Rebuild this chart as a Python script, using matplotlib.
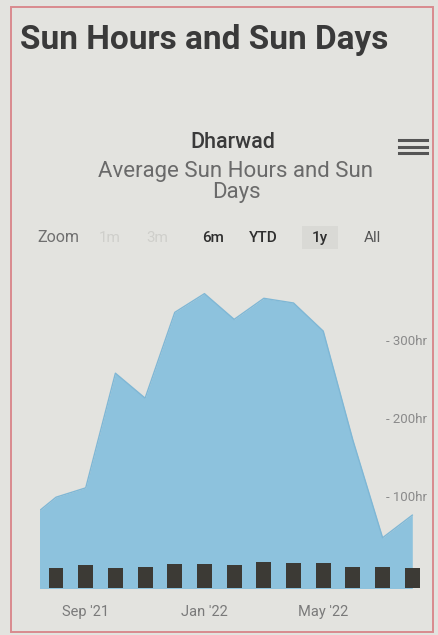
import matplotlib.pyplot as plt
from matplotlib.patches import Rectangle
import numpy as np

# monthly data, Jul '21 .. Aug '22 (first month only partly visible)
months = ["Jul '21", "Aug '21", "Sep '21", "Oct '21", "Nov '21", "Dec '21", "Jan '22",
          "Feb '22", "Mar '22", "Apr '22", "May '22", "Jun '22", "Jul '22", "Aug '22"]
sun_hours = [70, 101, 113, 260, 228, 338, 362, 329, 356, 350, 314, 174, 49, 78]
sun_days = [None, 24, 28, 24, 25, 29, 29, 27, 31, 30, 30, 25, 25, 24]

hour_ticks = [100, 200, 300]
x_tick_months = ["Sep '21", "Jan '22", "May '22"]
range_buttons = ["1m", "3m", "6m", "YTD", "1y", "All"]

W, H = 438, 635
BG = "#e3e3df"
AREA = "#8dc2dd"
BAR = "#3c3a35"

plt.rcParams["font.family"] = ["Roboto", "DejaVu Sans"]

fig = plt.figure(figsize=(W / 100, H / 100), dpi=100, facecolor=BG)


def fx(px):
    return px / W


def fy(py):
    return 1 - py / H


# card border
fig.patches.append(Rectangle((fx(11), fy(632)), fx(433) - fx(11), fy(7) - fy(632),
                             transform=fig.transFigure, fill=False,
                             edgecolor="#d98a8e", lw=1.4))

fig.text(fx(20), fy(40), "Sun Hours and Sun Days", fontsize=24, fontweight="bold",
         color="#3a3a3a", va="center", ha="left")
fig.text(fx(233), fy(143), "Dharwad", fontsize=15.5, fontweight="medium", color="#3a3a3a",
         ha="center", va="center")
fig.text(fx(236), fy(182), "Average Sun Hours and Sun\nDays", fontsize=16, color="#6a6a6a",
         ha="center", va="center", linespacing=0.95)

# hamburger menu
for yy in (140, 146.5, 153):
    fig.add_artist(plt.Line2D([fx(399), fx(427)], [fy(yy), fy(yy)], transform=fig.transFigure,
                              color="#555555", lw=2.2))

# range selector
fig.text(fx(58), fy(238), "Zoom", fontsize=11.5, color="#6f6f6f", ha="center", va="center")
btn_x = [110, 157, 213, 263, 320, 372]
btn_col = ["#cfcfcb", "#cfcfcb", "#2f2f2f", "#2f2f2f", "#2f2f2f", "#555555"]
fig.patches.append(Rectangle((fx(302), fy(249)), fx(338) - fx(302), fy(226) - fy(249),
                             transform=fig.transFigure, facecolor="#d9d9d5", edgecolor="none"))
for lbl, x, c in zip(range_buttons, btn_x, btn_col):
    fig.text(fx(x), fy(238), lbl, fontsize=11, color=c, ha="center", va="center",
             fontweight="medium" if c == "#2f2f2f" else "normal")

# plot area
ax = fig.add_axes([fx(40), fy(588), fx(420) - fx(40), fy(265) - fy(588)])
ax.set_facecolor(BG)
x = np.arange(len(months))
ax.fill_between(x, -30, sun_hours, color=AREA, lw=0)
ax.plot(x, sun_hours, color="#7fb7d5", lw=1)
ax.set_xlim(0.46, 13.26)
ax.set_ylim(-15.4, 398.7)
for s in ax.spines.values():
    s.set_visible(False)
ax.set_yticks([])
ax.set_xticks([months.index(m) for m in x_tick_months])
ax.set_xticklabels(x_tick_months)
ax.tick_params(axis="x", length=0, pad=12, labelsize=10.5, labelcolor="#7a7a7a")

for h in hour_ticks:
    ax.text(13.5, h, "- %dhr" % h, fontsize=9.5, color="#8a8a8a", ha="right", va="center",
            clip_on=False)

ax2 = ax.twinx()
bx = [i for i, d in enumerate(sun_days) if d is not None]
bd = [d for d in sun_days if d is not None]
ax2.bar(bx, bd, width=0.5, color=BAR)
ax2.set_ylim(0, 31 * 323 / 26)
ax2.set_yticks([])
for s in ax2.spines.values():
    s.set_visible(False)

fig.savefig("out.png", dpi=100, facecolor=BG)
